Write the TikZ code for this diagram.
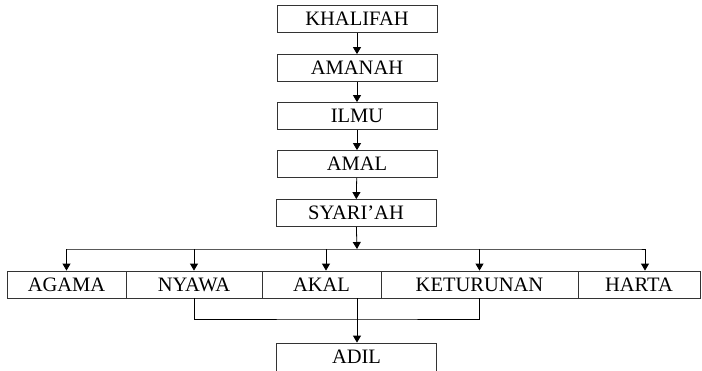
\documentclass[tikz,border=0pt]{standalone}
\usepackage{fontspec}
\setmainfont{Liberation Serif}
\usetikzlibrary{arrows.meta}
\begin{document}
\begin{tikzpicture}
		[x=1pt,y=-1pt,
		box/.style={rectangle,draw=black!80,line width=0.8pt,inner sep=0pt,
minimum height=27pt,font=\fontsize{20.5}{24}\selectfont},
		topbox/.style={box,minimum width=160pt},
		arr/.style={-{Triangle[length=7pt,width=8pt]},line width=0.8pt},
		backarr/.style={{Triangle[length=7pt,width=8pt]}-,line width=0.8pt},
		link/.style={-,line width=0.8pt}]
		\useasboundingbox (0,0) rectangle (702,370);
		\node at (357, 19) (khalifah) [topbox] {KHALIFAH};
		\node at (357, 68) (amanah) [topbox] {AMANAH}
			edge [backarr] (khalifah);
		\node at (357, 116) (ilmu) [topbox] {ILMU}
			edge [backarr] (amanah);
		\node at (357, 164) (amal) [topbox] {AMAL}
			edge [backarr] (ilmu);
		\node at (356, 213) (syariah) [topbox] {SYARI’AH}
			edge [backarr] (amal);
		\node at (66.5, 284.5) (agama) [box,minimum width=119pt] {AGAMA};
		\node at (194, 284.5) (nyawa) [box,minimum width=136pt] {NYAWA};
		\node at (321.5, 284.5) (akal) [box,minimum width=119pt] {AKAL};
		\node at (479.5, 284.5) (keturunan) [box,minimum width=197pt] {KETURUNAN};
		\node at (639, 284.5) (harta) [box,minimum width=122pt] {HARTA};
		\node at (356.5, 357.5) (adil) [topbox,minimum height=29pt] {\raisebox{1pt}{ADIL}};
		\coordinate (bus) at (357, 249);
		\coordinate (merge) at (357, 319);
		\draw [arr] (syariah) -- (bus);
		\draw [link] (bus -| agama.north) -- (bus -| harta.north) -- ++(6,0);
		\draw [arr] (bus -| agama.north) -- (agama.north);
		\draw [arr] (bus -| nyawa.north) -- (nyawa.north);
		\draw [arr] ([xshift=4.5pt]bus -| akal.north) -- ([xshift=4.5pt]akal.north);
		\draw [arr] (bus -| keturunan.north) -- (keturunan.north);
		\draw [arr] ([xshift=6pt]bus -| harta.north) -- ([xshift=6pt]harta.north);
		\draw [link] (nyawa.south) |- (merge) -| (keturunan.south);
		\draw [arr] (merge |- akal.south) -- (merge |- adil.north);
	\end{tikzpicture}
\end{document}
